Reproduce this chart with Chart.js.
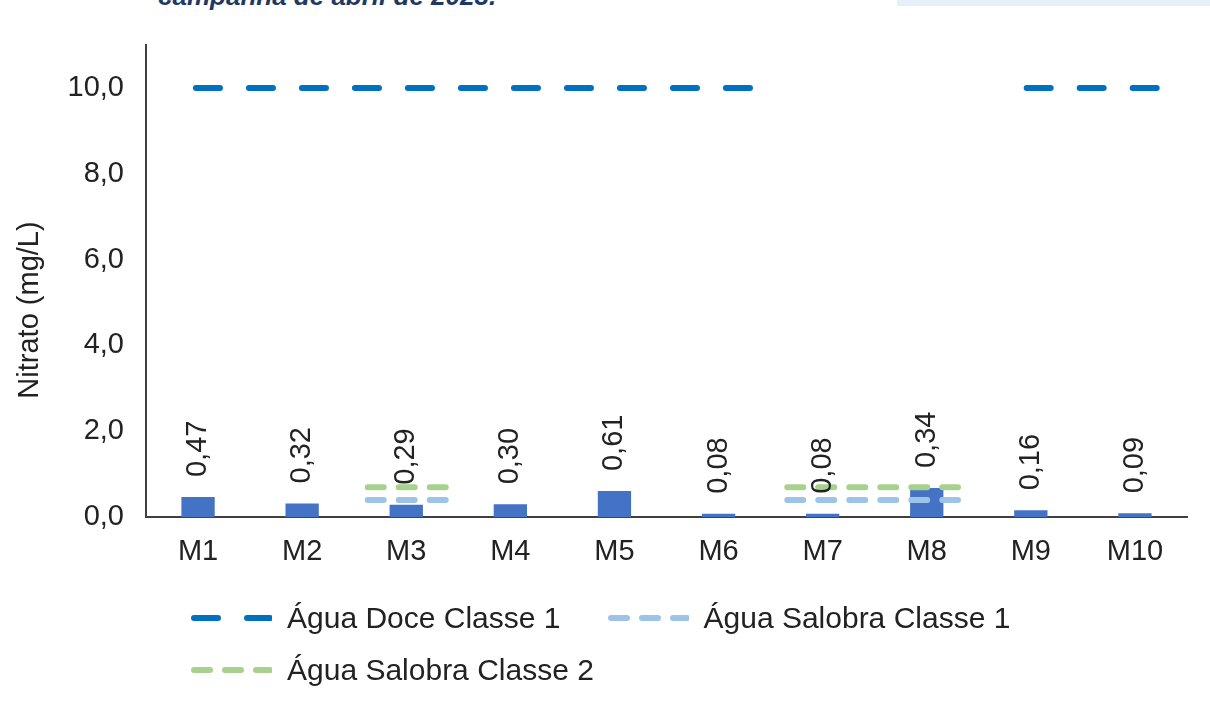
<!DOCTYPE html>
<html>
<head>
<meta charset="utf-8">
<script src="https://cdn.jsdelivr.net/npm/chart.js@4.4.1/dist/chart.umd.min.js"></script>
<style>
  html, body { margin: 0; padding: 0; background: #fff; }
  #wrap { position: relative; width: 1210px; height: 707px; overflow: hidden; font-family: "Liberation Sans", Arial, sans-serif; }
  #chart { position: absolute; left: 0; top: 0; }
  #caption { position: absolute; left: 158px; top: -17px; font: italic bold 26px/26px "Liberation Sans", Arial, sans-serif; color: #1f3864; white-space: nowrap; }
  #band { position: absolute; left: 897px; top: 0; width: 313px; height: 6px; background: #e7f0f9; }
  #legend { position: absolute; left: 190px; top: 601px; width: 850px; display: flex; flex-wrap: wrap; row-gap: 18px; column-gap: 46px; }
  .item { display: flex; align-items: center; height: 34px; font-size: 30px; color: #222; }
  .item svg { margin-right: 15px; }
</style>
</head>
<body>
<div id="wrap">
  <div id="caption">campanha de abril de 2023.</div>
  <div id="band"></div>
  <canvas id="chart" width="1210" height="707"></canvas>
  <div id="legend"></div>
</div>
<script>
let categories = ["M1", "M2", "M3", "M4", "M5", "M6", "M7", "M8", "M9", "M10"];

// bar heights as drawn (M8 bar is drawn taller than its label says)
let nitrateValues = [0.47, 0.32, 0.29, 0.30, 0.61, 0.08, 0.08, 0.68, 0.16, 0.09];
let nitrateLabels = ["0,47", "0,32", "0,29", "0,30", "0,61", "0,08", "0,08", "0,34", "0,16", "0,09"];

let yTicks = [0, 2, 4, 6, 8, 10];

// limit lines: value and the stretches of the category axis they cover
let doceLimit = 10.0;
let doceSpans = [[-0.02, 5.37], [7.96, 9.26]];
let salobra1Limit = 0.4;
let salobra2Limit = 0.7;
let salobraSpans = [[1.63, 2.44], [5.66, 7.30]];

let seriesNames = ["Água Doce Classe 1", "Água Salobra Classe 1", "Água Salobra Classe 2"];

function spanPoints(spans, value) {
    let pts = [];
    spans.forEach(function (s, i) {
        if (i > 0) pts.push({ x: (spans[i - 1][1] + s[0]) / 2, y: null });
        pts.push({ x: s[0], y: value });
        pts.push({ x: s[1], y: value });
    });
    return pts;
}

let fontName = "'Liberation Sans', Arial, sans-serif";
let textColor = "#222222";
let axisColor = "#404040";

let lineSets = [
    { label: seriesNames[0], color: "rgb(0, 112, 192)", dash: [24, 29], data: spanPoints(doceSpans, doceLimit) },
    { label: seriesNames[1], color: "rgb(157, 195, 230)", dash: [16, 15], data: spanPoints(salobraSpans, salobra1Limit) },
    { label: seriesNames[2], color: "rgb(169, 209, 142)", dash: [16, 15], data: spanPoints(salobraSpans, salobra2Limit) },
];

/////////// LABELS PLUGIN /////////////
let barLabelsPlugin = {
    id: "barLabels",
    afterDatasetsDraw(chart) {
        let ctx = chart.ctx;
        let meta = chart.getDatasetMeta(0);
        ctx.save();
        ctx.font = "29px " + fontName;
        ctx.fillStyle = textColor;
        ctx.textAlign = "left";
        ctx.textBaseline = "middle";
        meta.data.forEach(function (bar, i) {
            ctx.save();
            ctx.translate(bar.x, bar.y - 20);
            ctx.rotate(-Math.PI / 2);
            ctx.fillText(nitrateLabels[i], 0, 0);
            ctx.restore();
        });
        // axis title
        ctx.translate(30, 310);
        ctx.rotate(-Math.PI / 2);
        ctx.textAlign = "center";
        ctx.font = "29px " + fontName;
        ctx.fillText("Nitrato (mg/L)", 0, 0);
        ctx.restore();
    },
};

let datasets = [
    {
        type: "bar",
        data: nitrateValues,
        backgroundColor: "rgb(68, 114, 196)",
        barPercentage: 0.32,
        categoryPercentage: 1,
        grouped: false,
        xAxisID: "x",
        order: 2,
    },
];
lineSets.forEach(function (s) {
    datasets.push({
        type: "line",
        label: s.label,
        data: s.data,
        borderColor: s.color,
        backgroundColor: s.color,
        borderWidth: 6,
        borderDash: s.dash,
        borderCapStyle: "round",
        pointRadius: 0,
        spanGaps: false,
        xAxisID: "xl",
        order: 1,
    });
});

let nitrateChart = new Chart(document.getElementById("chart"), {
    type: "bar",
    plugins: [barLabelsPlugin],
    data: { labels: categories, datasets: datasets },
    options: {
        responsive: false,
        animation: false,
        layout: { padding: { top: 45, right: 23, left: 0, bottom: 121 } },
        plugins: { legend: { display: false }, tooltip: { enabled: false } },
        scales: {
            x: {
                type: "category",
                offset: true,
                grid: { display: false, drawTicks: false },
                border: { display: true, color: axisColor, width: 2 },
                ticks: { color: textColor, font: { size: 29, family: fontName }, padding: 17 },
            },
            xl: {
                type: "linear",
                display: false,
                offset: false,
                min: -0.5,
                max: 9.5,
            },
            y: {
                min: 0,
                max: 11,
                afterFit(scale) { scale.width = 146; },
                afterBuildTicks(scale) { scale.ticks = yTicks.map(function (v) { return { value: v }; }); },
                grid: { display: false, drawTicks: false },
                border: { display: true, color: axisColor, width: 2 },
                ticks: {
                    color: textColor,
                    font: { size: 29, family: fontName },
                    padding: 22,
                    callback: function (v) { return v.toFixed(1).replace(".", ","); },
                },
            },
        },
    },
});

// legend built from the line datasets
let legendEl = document.getElementById("legend");
lineSets.forEach(function (s) {
    let item = document.createElement("div");
    item.className = "item";
    let svgNS = "http://www.w3.org/2000/svg";
    let svg = document.createElementNS(svgNS, "svg");
    svg.setAttribute("width", "82");
    svg.setAttribute("height", "12");
    let ln = document.createElementNS(svgNS, "line");
    ln.setAttribute("x1", "4"); ln.setAttribute("x2", "80");
    ln.setAttribute("y1", "6"); ln.setAttribute("y2", "6");
    ln.setAttribute("stroke", s.color);
    ln.setAttribute("stroke-width", "6");
    ln.setAttribute("stroke-linecap", "round");
    ln.setAttribute("stroke-dasharray", s.dash.join(" "));
    svg.appendChild(ln);
    item.appendChild(svg);
    let span = document.createElement("span");
    span.textContent = s.label;
    item.appendChild(span);
    legendEl.appendChild(item);
});
</script>
</body>
</html>
